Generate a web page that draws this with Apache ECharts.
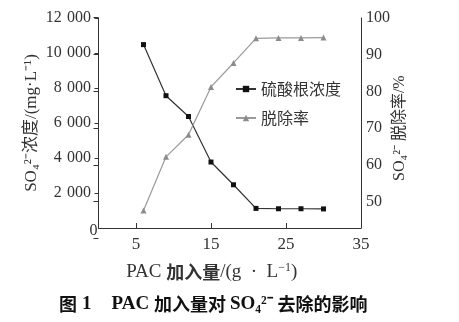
<!DOCTYPE html>
<html>
<head>
<meta charset="utf-8">
<script src="https://cdn.jsdelivr.net/npm/echarts@6/dist/echarts.min.js"></script>
<style>html,body{margin:0;padding:0;background:#fff}#c{width:459px;height:322px}</style>
</head>
<body>
<div id="c"></div>
<script>
const pacDose = [6, 9, 12, 15, 18, 21, 24, 27, 30];
const sulfateConc = [10480, 7560, 6370, 3770, 2470, 1120, 1100, 1100, 1090];
const removalRate = [47.6, 62.2, 68.2, 81.2, 87.7, 94.4, 94.5, 94.5, 94.6];
const xTickValues = [5, 15, 25, 35];
const leftTickValues = [2000, 4000, 6000, 8000, 10000, 12000];
const seriesNames = ['硫酸根浓度', '脱除率'];

const SERIF = '"Liberation Serif","Noto Sans CJK SC",serif';
const SANS = '"Noto Sans CJK SC",sans-serif';
const GRID_L = 98.5, GRID_R = 459 - 361;

function fmtThousands(v) {
  const s = String(v);
  return s.length > 3 ? s.slice(0, s.length - 3) + '\u2004' + s.slice(s.length - 3) : s;
}

const chart = echarts.init(document.getElementById('c'), null, {renderer: 'canvas'});
chart.setOption({
  animation: false,
  backgroundColor: '#fff',
  title: {
    left: 54, top: 290,
    text: '{b|图} {s|1}    {s|PAC }{b|加入量对 }{s|SO₄²⁻ }{b|去除的影响}',
    textStyle: {
      rich: {
        b: {fontFamily: SANS, fontWeight: 'bold', fontSize: 18, color: '#111'},
        s: {fontFamily: SERIF, fontSize: 19, color: '#111'}
      }
    }
  },
  legend: {
    data: seriesNames,
    orient: 'vertical',
    left: 230, top: 76,
    itemWidth: 20, itemHeight: 8, itemGap: 13,
    textStyle: {fontFamily: SANS, fontSize: 16, color: '#333'}
  },
  grid: [
    {left: GRID_L, right: GRID_R, top: 18, bottom: 94, containLabel: false},
    {left: GRID_L, right: GRID_R, top: 17.7, bottom: 83.5, containLabel: false}
  ],
  xAxis: [
    {
      type: 'value', gridIndex: 0, min: 0, max: 35,
      name: '{s|PAC }{b|加入量}{s|/(g  ·  L}{sup|−1}{s|)}',
      nameLocation: 'middle', nameGap: 34,
      nameTextStyle: {
        padding: [0, 36, 0, 0],
        rich: {
          s: {fontFamily: SERIF, fontSize: 19, color: '#333'},
          b: {fontFamily: SANS, fontWeight: 'bold', fontSize: 18, color: '#333'},
          sup: {fontFamily: SERIF, fontSize: 12, color: '#333', padding: [0, 0, 9, 0]}
        }
      },
      axisLine: {show: true, onZero: false, lineStyle: {color: '#333', width: 1}},
      axisTick: {show: true, inside: true, length: 5, customValues: xTickValues, lineStyle: {color: '#333'}},
      axisLabel: {customValues: xTickValues, fontFamily: SERIF, fontSize: 17, color: '#333', margin: 8},
      splitLine: {show: false}
    },
    {
      type: 'value', gridIndex: 1, min: 0, max: 35, show: false
    }
  ],
  yAxis: [
    {
      type: 'value', gridIndex: 0, position: 'left', min: 0, max: 12000, interval: 2000,
      name: 'SO₄²⁻浓度/(mg·L⁻¹)',
      nameLocation: 'middle', nameGap: 58, nameMoveOverlap: false,
      nameTextStyle: {fontFamily: SERIF + ',' + SANS, fontSize: 17, color: '#333'},
      axisLine: {show: true, onZero: false, lineStyle: {color: '#333', width: 1}},
      axisTick: {show: true, inside: false, length: 4, customValues: leftTickValues, lineStyle: {color: '#333'}},
      axisLabel: {
        margin: 1, showMinLabel: true, hideOverlap: false,
        formatter: function (v) { return v === 0 ? '{z|0}' : '{n|' + fmtThousands(v) + '}'; },
        rich: {
          n: {fontFamily: SERIF, fontSize: 16, color: '#333', padding: [0, 6.5, 0, 0]},
          z: {fontFamily: SERIF, fontSize: 16, color: '#333', padding: [5, 0, 0, 0]}
        }
      },
      splitLine: {show: false}
    },
    {
      type: 'value', gridIndex: 0, position: 'right', min: 0, max: 1,
      axisLine: {show: true, onZero: false, lineStyle: {color: '#333', width: 1}},
      axisTick: {show: false}, axisLabel: {show: false}, splitLine: {show: false}
    },
    {
      type: 'value', gridIndex: 1, position: 'right', min: 40, max: 100, interval: 10,
      name: 'SO₄²⁻ 脱除率/%',
      nameLocation: 'middle', nameGap: 31, nameMoveOverlap: false,
      nameTextStyle: {fontFamily: SERIF + ',' + SANS, fontSize: 16, color: '#333'},
      axisLine: {show: false},
      axisTick: {show: true, inside: true, length: 5, lineStyle: {color: '#333'}},
      axisLabel: {
        margin: 5, fontFamily: SERIF, fontSize: 16, color: '#333',
        formatter: function (v) { return v === 40 ? '' : String(v); }
      },
      splitLine: {show: false}
    }
  ],
  series: [
    {
      name: seriesNames[0], type: 'line', xAxisIndex: 0, yAxisIndex: 0,
      data: pacDose.map((x, i) => [x, sulfateConc[i]]),
      symbol: 'rect', symbolSize: 5, showAllSymbol: true,
      itemStyle: {color: '#111'},
      lineStyle: {color: '#333', width: 1.2}
    },
    {
      name: seriesNames[1], type: 'line', xAxisIndex: 1, yAxisIndex: 2,
      data: pacDose.map((x, i) => [x, removalRate[i]]),
      symbol: 'triangle', symbolSize: 6, showAllSymbol: true,
      itemStyle: {color: '#8c8c8c'},
      lineStyle: {color: '#9a9a9a', width: 1.2}
    }
  ]
});
</script>
</body>
</html>
